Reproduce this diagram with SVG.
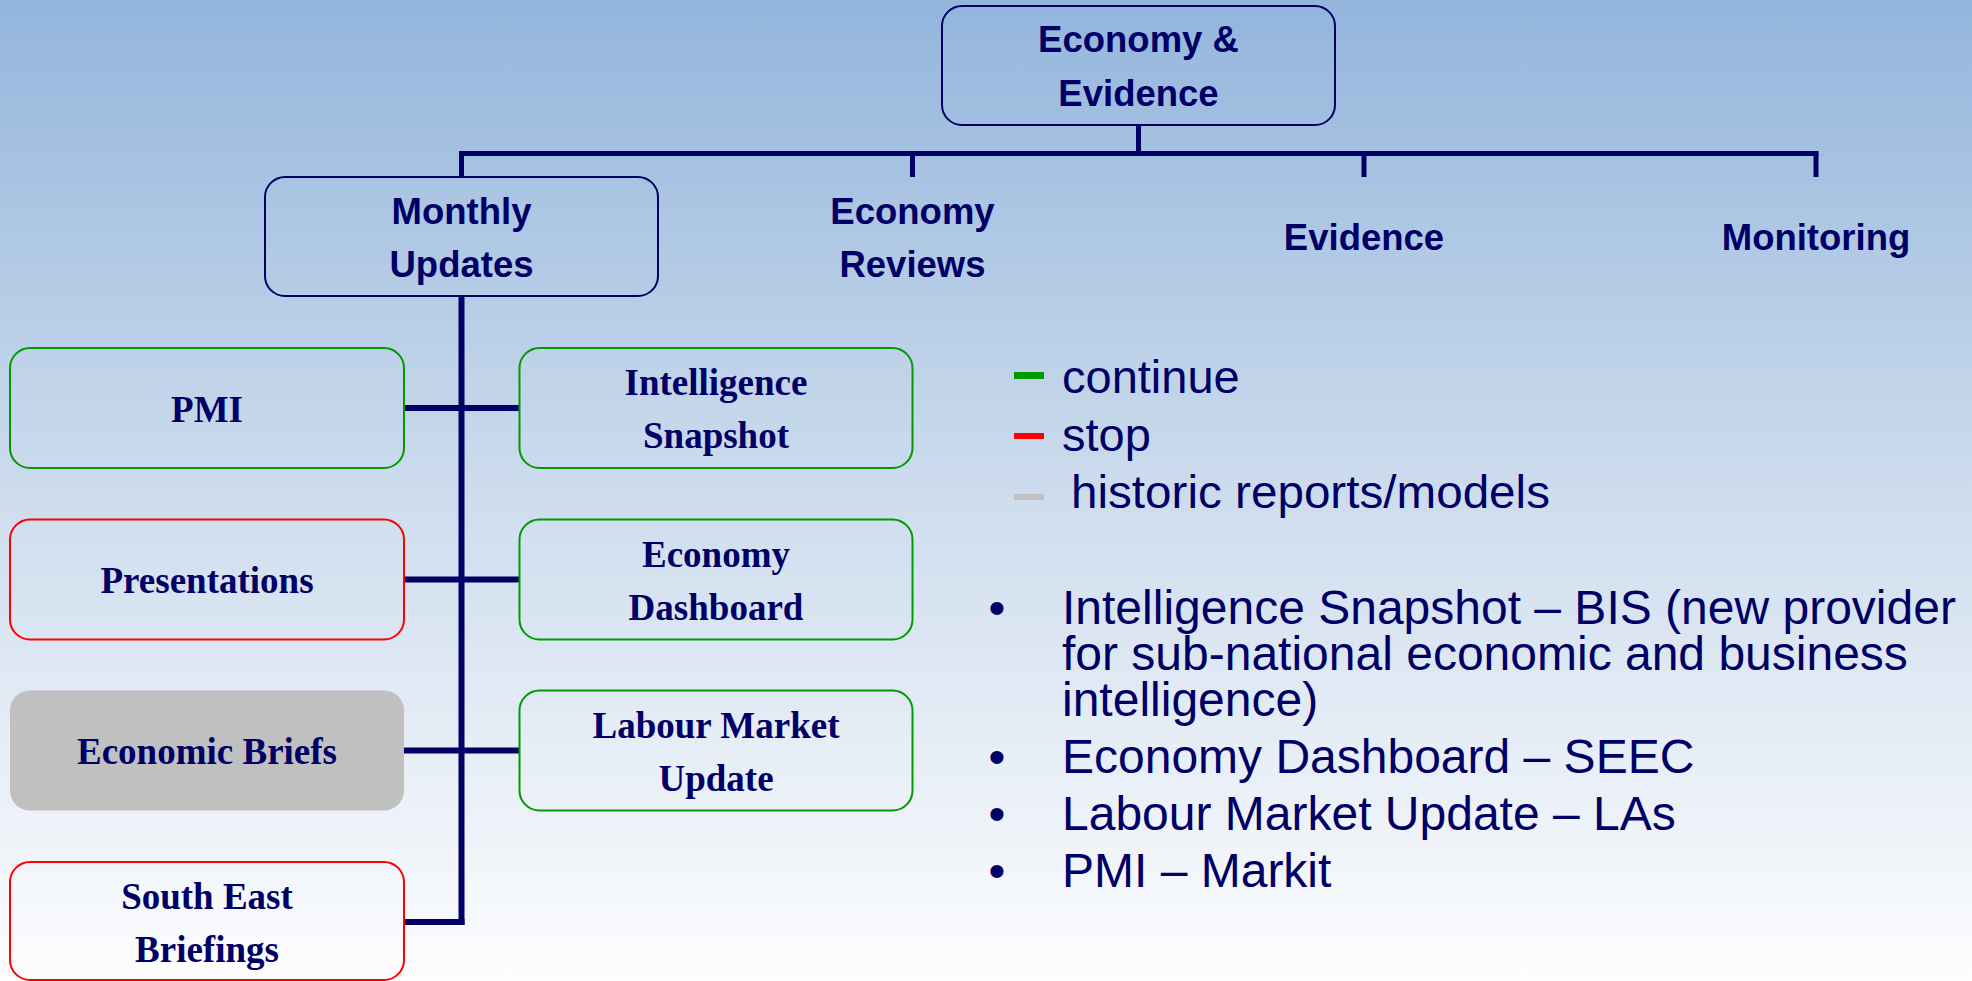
<svg xmlns="http://www.w3.org/2000/svg" width="1972" height="981" viewBox="0 0 1972 981">
<defs>
<linearGradient id="bg" x1="0" y1="0" x2="0" y2="1">
<stop offset="0" stop-color="#93b5dc"/>
<stop offset="0.5" stop-color="#cddced"/>
<stop offset="1" stop-color="#fdfdfe"/>
</linearGradient>
<style>
.hbox{fill:none;stroke:#000066;stroke-width:2}
.leaf{fill:none;stroke-width:2}
.green{stroke:#009900}
.red{stroke:#ff0000}
.gray{fill:#c0c0c0;stroke:none}
.ht{font-family:"Liberation Sans",Arial,sans-serif;font-weight:bold;font-size:36.5px;fill:#000066;text-anchor:middle}
.lt{font-family:"Liberation Serif","Times New Roman",serif;font-weight:bold;font-size:37px;fill:#000066;text-anchor:middle}
.legend{font-family:"Liberation Sans",Arial,sans-serif;font-size:47px;fill:#000066}
.bul{font-family:"Liberation Sans",Arial,sans-serif;font-size:48px;fill:#000066}
.conn{stroke:#000066;fill:none}
</style>
</defs>
<rect x="0" y="0" width="1972" height="981" fill="url(#bg)"/>

<g id="connectors" class="conn">
<line x1="1138.5" y1="125" x2="1138.5" y2="153.5" stroke-width="5"/>
<line x1="459" y1="153.5" x2="1818.5" y2="153.5" stroke-width="5"/>
<line x1="461.5" y1="153.5" x2="461.5" y2="177" stroke-width="5"/>
<line x1="912.5" y1="153.5" x2="912.5" y2="177" stroke-width="5"/>
<line x1="1364" y1="153.5" x2="1364" y2="177" stroke-width="5"/>
<line x1="1816" y1="153.5" x2="1816" y2="177" stroke-width="5"/>
<line x1="461.5" y1="296" x2="461.5" y2="925" stroke-width="6"/>
<line x1="404" y1="408" x2="519.5" y2="408" stroke-width="6"/>
<line x1="404" y1="579.5" x2="519.5" y2="579.5" stroke-width="6"/>
<line x1="404" y1="750.5" x2="519.5" y2="750.5" stroke-width="6"/>
<line x1="404" y1="922" x2="464.5" y2="922" stroke-width="6"/>
</g>

<g id="economy-evidence">
<rect class="hbox" x="942" y="6" width="393" height="119" rx="20"/>
<text class="ht" x="1138.5" y="52">Economy &amp;</text>
<text class="ht" x="1138.5" y="106">Evidence</text>
</g>

<g id="monthly-updates">
<rect class="hbox" x="265" y="177" width="393" height="119" rx="20"/>
<text class="ht" x="461.5" y="224">Monthly</text>
<text class="ht" x="461.5" y="277">Updates</text>
</g>

<g id="economy-reviews">
<text class="ht" x="912.5" y="224">Economy</text>
<text class="ht" x="912.5" y="277">Reviews</text>
</g>

<g id="evidence">
<text class="ht" x="1364" y="250">Evidence</text>
</g>

<g id="monitoring">
<text class="ht" x="1816" y="250">Monitoring</text>
</g>

<g id="pmi">
<rect class="leaf green" x="10" y="348" width="394" height="120" rx="20"/>
<text class="lt" x="207" y="421.5">PMI</text>
</g>

<g id="intelligence-snapshot">
<rect class="leaf green" x="519.5" y="348" width="393" height="120" rx="20"/>
<text class="lt" x="716" y="395">Intelligence</text>
<text class="lt" x="716" y="448">Snapshot</text>
</g>

<g id="presentations">
<rect class="leaf red" x="10" y="519.5" width="394" height="120" rx="20"/>
<text class="lt" x="207" y="593">Presentations</text>
</g>

<g id="economy-dashboard">
<rect class="leaf green" x="519.5" y="519.5" width="393" height="120" rx="20"/>
<text class="lt" x="716" y="566.5">Economy</text>
<text class="lt" x="716" y="619.5">Dashboard</text>
</g>

<g id="economic-briefs">
<rect class="gray" x="10" y="690.5" width="394" height="120" rx="20"/>
<text class="lt" x="207" y="764">Economic Briefs</text>
</g>

<g id="labour-market-update">
<rect class="leaf green" x="519.5" y="690.5" width="393" height="120" rx="20"/>
<text class="lt" x="716" y="737.5">Labour Market</text>
<text class="lt" x="716" y="790.5">Update</text>
</g>

<g id="south-east-briefings">
<rect class="leaf red" x="10" y="862" width="394" height="118" rx="20"/>
<text class="lt" x="207" y="908.5">South East</text>
<text class="lt" x="207" y="961.5">Briefings</text>
</g>

<g id="legend">
<rect x="1014" y="372" width="30" height="7" fill="#009900"/>
<text class="legend" x="1062" y="393">continue</text>
<rect x="1014" y="433" width="30" height="6" fill="#ff0000"/>
<text class="legend" x="1062" y="450.5">stop</text>
<rect x="1014" y="494" width="30" height="6" fill="#c0c0c0"/>
<text class="legend" x="1071" y="508" textLength="479" lengthAdjust="spacingAndGlyphs">historic reports/models</text>
</g>

<g id="notes">
<text class="bul" x="997" y="623.5" text-anchor="middle">•</text>
<text class="bul" x="1062" y="623.5">Intelligence Snapshot – BIS (new provider</text>
<text class="bul" x="1062" y="669.5">for sub-national economic and business</text>
<text class="bul" x="1062" y="715.5">intelligence)</text>
<text class="bul" x="997" y="773" text-anchor="middle">•</text>
<text class="bul" x="1062" y="773">Economy Dashboard – SEEC</text>
<text class="bul" x="997" y="830" text-anchor="middle">•</text>
<text class="bul" x="1062" y="830">Labour Market Update – LAs</text>
<text class="bul" x="997" y="887" text-anchor="middle">•</text>
<text class="bul" x="1062" y="887">PMI – Markit</text>
</g>
</svg>
